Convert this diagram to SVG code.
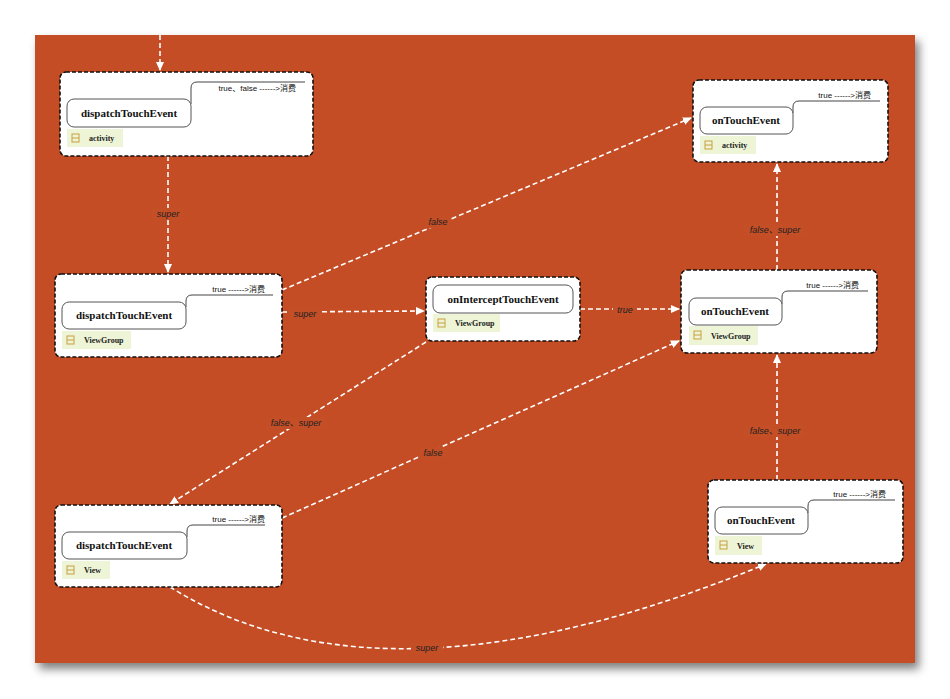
<svg xmlns="http://www.w3.org/2000/svg" width="950" height="699" viewBox="0 0 950 699">
<defs>
<marker id="ah" markerWidth="10" markerHeight="10" refX="8" refY="5" orient="auto" markerUnits="userSpaceOnUse"><path d="M0,1 L9,5 L0,9 Z" fill="#fff"/></marker>
<filter id="sh" x="-5%" y="-5%" width="115%" height="115%"><feDropShadow dx="4" dy="6" stdDeviation="5" flood-color="#000" flood-opacity="0.5"/></filter>
</defs>
<style>
.box{fill:#fff;stroke:#111;stroke-width:1.6;stroke-dasharray:4 2}
.pill{fill:#fff;stroke:#555;stroke-width:1}
.tag{fill:#eef5d6}
.ann{fill:none;stroke:#444;stroke-width:1}
.t{font-family:"Liberation Serif",serif;font-weight:bold;font-size:11px;fill:#111}
.s{font-family:"Liberation Serif",serif;font-weight:bold;font-size:8px;fill:#222}
.a{font-family:"Liberation Sans","Noto Sans CJK SC",sans-serif;font-size:8px;fill:#111;text-anchor:end}
.c{fill:none;stroke:#fff;stroke-width:1.6;stroke-dasharray:5 3}
.l{font-family:"Liberation Sans","Noto Sans CJK SC",sans-serif;font-style:italic;font-size:9px;fill:#222;text-anchor:middle}
.lb{fill:#c44e26}
.ic{fill:none;stroke:#c9a040;stroke-width:1}
</style>
<rect width="950" height="699" fill="#fff"/>
<rect x="35" y="35" width="880" height="628" fill="#c44e26" filter="url(#sh)"/>
<g id="connectors">
<path class="c" d="M160,35 V70" marker-end="url(#ah)"/>
<path class="c" d="M168,156 V272" marker-end="url(#ah)"/>
<path class="c" d="M282,290 L691,118" marker-end="url(#ah)"/>
<path class="c" d="M282,312 L424,311" marker-end="url(#ah)"/>
<path class="c" d="M580,309 L679,309" marker-end="url(#ah)"/>
<path class="c" d="M777,270 V164" marker-end="url(#ah)"/>
<path class="c" d="M426,342 L170,504" marker-end="url(#ah)"/>
<path class="c" d="M282,518 L679,341" marker-end="url(#ah)"/>
<path class="c" d="M777,480 V355" marker-end="url(#ah)"/>
<path class="c" d="M170,587 Q385,721 766,564" marker-end="url(#ah)"/>
<rect class="lb" x="152" y="208" width="32" height="12"/><text class="l" x="168" y="217">super</text>
<rect class="lb" x="425" y="216" width="26" height="12"/><text class="l" x="438" y="225">false</text>
<rect class="lb" x="290" y="308" width="32" height="12"/><text class="l" x="305" y="317">super</text>
<rect class="lb" x="613" y="304" width="24" height="12"/><text class="l" x="625" y="313">true</text>
<rect class="lb" x="744" y="224" width="62" height="12"/><text class="l" x="775" y="233">false、super</text>
<rect class="lb" x="265" y="417" width="62" height="12"/><text class="l" x="296" y="426">false、super</text>
<rect class="lb" x="420" y="447" width="26" height="12"/><text class="l" x="433" y="456">false</text>
<rect class="lb" x="744" y="425" width="62" height="12"/><text class="l" x="775" y="434">false、super</text>
<rect class="lb" x="411" y="642" width="32" height="12"/><text class="l" x="427" y="651">super</text>
</g>
<g id="n1">
<rect class="box" x="60" y="72" width="253" height="84" rx="6"/>
<path class="ann" d="M191,104 V88 Q191,82 197,82 H305"/>
<text class="a" x="296" y="91">true、false ------&gt;消费</text>
<rect class="pill" x="67" y="99" width="124" height="28" rx="7"/>
<text class="t" x="129" y="117" text-anchor="middle">dispatchTouchEvent</text>
<rect class="tag" x="67" y="129" width="56" height="18"/>
<rect class="ic" x="72" y="134" width="7" height="8"/><line class="ic" x1="72" y1="138" x2="79" y2="138"/>
<text class="s" x="89" y="141">activity</text>
</g>
<g id="n2">
<rect class="box" x="55" y="274" width="227" height="83" rx="6"/>
<path class="ann" d="M186,307 V301 Q186,295 192,295 H273"/>
<text class="a" x="265" y="292">true ------&gt;消费</text>
<rect class="pill" x="62" y="302" width="124" height="27" rx="7"/>
<text class="t" x="124" y="319" text-anchor="middle">dispatchTouchEvent</text>
<rect class="tag" x="62" y="331" width="69" height="18"/>
<rect class="ic" x="67" y="336" width="7" height="8"/><line class="ic" x1="67" y1="340" x2="74" y2="340"/>
<text class="s" x="84" y="343">ViewGroup</text>
</g>
<g id="n3">
<rect class="box" x="426" y="277" width="154" height="64" rx="6"/>
<rect class="pill" x="433" y="285" width="140" height="28" rx="7"/>
<text class="t" x="503" y="303" text-anchor="middle">onInterceptTouchEvent</text>
<rect class="tag" x="433" y="314" width="67" height="18"/>
<rect class="ic" x="438" y="319" width="7" height="8"/><line class="ic" x1="438" y1="323" x2="445" y2="323"/>
<text class="s" x="455" y="326">ViewGroup</text>
</g>
<g id="n4">
<rect class="box" x="681" y="270" width="196" height="83" rx="6"/>
<path class="ann" d="M782,304 V297 Q782,291 788,291 H868"/>
<text class="a" x="859" y="288">true ------&gt;消费</text>
<rect class="pill" x="689" y="298" width="93" height="27" rx="7"/>
<text class="t" x="735" y="315" text-anchor="middle">onTouchEvent</text>
<rect class="tag" x="689" y="326" width="69" height="19"/>
<rect class="ic" x="694" y="331" width="7" height="8"/><line class="ic" x1="694" y1="335" x2="701" y2="335"/>
<text class="s" x="711" y="339">ViewGroup</text>
</g>
<g id="n5">
<rect class="box" x="693" y="80" width="195" height="82" rx="6"/>
<path class="ann" d="M793,113 V107 Q793,101 799,101 H880"/>
<text class="a" x="871" y="98">true ------&gt;消费</text>
<rect class="pill" x="700" y="107" width="93" height="27" rx="7"/>
<text class="t" x="746" y="124" text-anchor="middle">onTouchEvent</text>
<rect class="tag" x="700" y="136" width="56" height="18"/>
<rect class="ic" x="705" y="141" width="7" height="8"/><line class="ic" x1="705" y1="145" x2="712" y2="145"/>
<text class="s" x="722" y="148">activity</text>
</g>
<g id="n6">
<rect class="box" x="55" y="505" width="227" height="82" rx="6"/>
<path class="ann" d="M187,537 V531 Q187,525 193,525 H265"/>
<text class="a" x="265" y="522">true ------&gt;消费</text>
<rect class="pill" x="62" y="532" width="125" height="27" rx="7"/>
<text class="t" x="124" y="549" text-anchor="middle">dispatchTouchEvent</text>
<rect class="tag" x="62" y="561" width="48" height="18"/>
<rect class="ic" x="67" y="566" width="7" height="8"/><line class="ic" x1="67" y1="570" x2="74" y2="570"/>
<text class="s" x="84" y="573">View</text>
</g>
<g id="n7">
<rect class="box" x="708" y="480" width="195" height="83" rx="6"/>
<path class="ann" d="M808,513 V506 Q808,500 814,500 H895"/>
<text class="a" x="886" y="497">true ------&gt;消费</text>
<rect class="pill" x="715" y="507" width="93" height="27" rx="7"/>
<text class="t" x="761" y="524" text-anchor="middle">onTouchEvent</text>
<rect class="tag" x="715" y="536" width="47" height="19"/>
<rect class="ic" x="720" y="541" width="7" height="8"/><line class="ic" x1="720" y1="545" x2="727" y2="545"/>
<text class="s" x="737" y="549">View</text>
</g>
</svg>
